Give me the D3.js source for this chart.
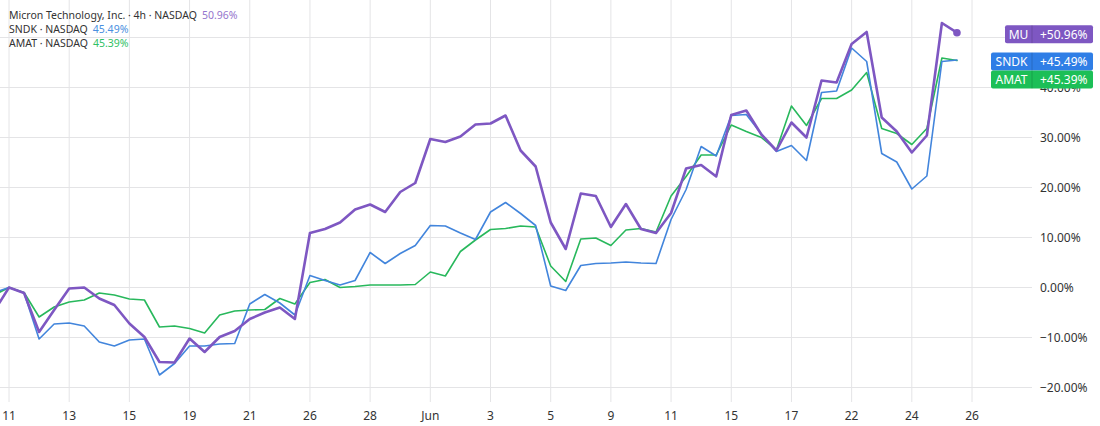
<!DOCTYPE html>
<html><head><meta charset="utf-8">
<script src="https://cdn.jsdelivr.net/npm/d3@7"></script>
<style>
body{margin:0;background:#fff;}
svg{display:block;font-family:"Noto Sans",sans-serif;}
</style>
</head><body>
<svg id="c" width="1100" height="426"></svg>
<script>
// bar index of first value (one bar before May 11, partly cut off)
const firstIndex = -1;
const tickLabels = ["11","13","15","19","21","26","28","Jun","3","5","9","11","15","17","22","24","26"];
const tickIndex  = [0,4,8,12,16,20,24,28,32,36,40,44,48,52,56,60,64];
const yTicks = [-20,-10,0,10,20,30,40,50];

const mu = [-4.8,0,-1.1,-8.9,-4.5,-0.2,0,-2.2,-3.5,-7.2,-9.9,-14.9,-15.0,-10.2,-12.9,-9.9,-8.7,-6.3,-5.0,-4.0,-6.3,
  10.9,11.7,13.0,15.6,16.6,15.1,19.1,20.9,29.7,29.1,30.2,32.6,32.8,34.4,27.4,24.2,
  13.0,7.7,18.8,18.3,12.1,16.7,11.7,10.9,14.9,23.8,24.5,22.2,34.5,35.4,30.6,
  27.4,33.0,30.0,41.4,41.0,48.7,51.1,34.0,31.2,27.0,30.4,52.9,50.96];
const sndk = [-1.0,0,-1.1,-10.3,-7.3,-7.1,-7.7,-10.9,-11.7,-10.5,-10.3,-17.5,-15.2,-11.7,-11.7,-11.3,-11.2,-3.3,-1.4,-3.1,-5.5,
  2.4,1.4,0.5,1.4,7.0,4.8,6.8,8.4,12.4,12.3,10.9,9.6,15.1,17.0,14.8,12.4,
  0.3,-0.6,4.4,4.8,4.9,5.1,4.9,4.8,13.6,19.6,28.2,26.3,34.4,34.6,30.7,
  27.2,28.4,25.4,39.0,39.3,47.9,45.2,26.8,25.1,19.7,22.3,45.2,45.49];
const amat = [-1.5,0,-1.0,-5.9,-3.9,-2.9,-2.5,-1.1,-1.5,-2.3,-2.5,-7.9,-7.7,-8.2,-9.1,-5.5,-4.7,-4.5,-4.4,-2.2,-3.3,
  1.0,1.6,0,0.2,0.5,0.5,0.5,0.6,3.1,2.3,7.2,9.5,11.6,11.8,12.3,12.1,
  4.3,1.2,9.7,9.9,8.4,11.5,11.8,11.1,18.3,22.2,26.5,26.5,32.5,31.2,30.0,
  27.5,36.3,32.4,37.8,37.8,39.5,43.0,31.8,30.8,28.6,31.8,45.9,45.39];

const legendNames = ["Micron Technology, Inc. · 4h · NASDAQ","SNDK · NASDAQ","AMAT · NASDAQ"];
const badgeNames = ["MU","SNDK","AMAT"];

const series = [
  {key:"MU",   values:mu,   line:"#7e57c2", badge:"#7e57c2", legendVal:"#9575cd", w:2.6},
  {key:"SNDK", values:sndk, line:"#4285dc", badge:"#2f7ee6", legendVal:"#4a8fe0", w:1.6},
  {key:"AMAT", values:amat, line:"#28b85c", badge:"#1cbf57", legendVal:"#2fc165", w:1.6}
];

const svg = d3.select("#c");
const plotRight = 1032, plotBottom = 402;

const x = d3.scaleLinear().domain([0,64]).range([9,972]);
const y = d3.scaleLinear().domain([-20,50]).range([387.5,37.5]);

svg.append("defs").append("clipPath").attr("id","clip")
  .append("rect").attr("x",0).attr("y",0).attr("width",plotRight).attr("height",plotBottom);

// grid
const grid = svg.append("g");
grid.selectAll("line.v").data(tickIndex).join("line")
  .attr("x1",d=>x(d)).attr("x2",d=>x(d)).attr("y1",0).attr("y2",plotBottom)
  .attr("stroke","#e4e4e6").attr("stroke-width",1);
grid.selectAll("line.h").data(yTicks).join("line")
  .attr("x1",0).attr("x2",plotRight).attr("y1",d=>y(d)).attr("y2",d=>y(d))
  .attr("stroke","#e4e4e6").attr("stroke-width",1);

// badge layout (computed first so fully covered axis labels can be skipped)
const bh = 18;
let prevBottom = -Infinity;
const badges = series.map((s,k)=>{
  const v = s.values[s.values.length-1];
  let top = y(v)+1.5 - bh/2;
  if (top < prevBottom) top = prevBottom;
  prevBottom = top + bh;
  return {s, k, v, top, left: k===0 ? 1005 : 991};
});
const covered = d => badges.some(b => y(d)-3 >= b.top && y(d)+3 <= b.top+bh);

// axis labels
const fmt = d => (d<0?"\u2212":"") + d3.format(".2f")(Math.abs(d)) + "%";
svg.append("g").selectAll("text").data(yTicks.filter(d=>!covered(d))).join("text")
  .attr("x",1040).attr("y",d=>y(d)+4.3)
  .attr("font-size",12).attr("fill","#333").text(fmt);
svg.append("g").selectAll("text").data(tickIndex).join("text")
  .attr("x",d=>x(d)).attr("y",420).attr("text-anchor","middle")
  .attr("font-size",12).attr("fill","#333").text((d,i)=>tickLabels[i]);

// lines
const line = d3.line().x((d,i)=>x(i+firstIndex)).y(d=>y(d));
const lg = svg.append("g").attr("clip-path","url(#clip)");
[series[2],series[1],series[0]].forEach(s=>{
  lg.append("path").datum(s.values).attr("d",line)
    .attr("fill","none").attr("stroke",s.line).attr("stroke-width",s.w)
    .attr("stroke-linejoin","round").attr("stroke-linecap","round");
});
// end dot for MU
const lastI = mu.length-1;
lg.append("circle").attr("cx",x(lastI+firstIndex)).attr("cy",y(mu[lastI]))
  .attr("r",3.8).attr("fill","#7e57c2");

// legend
const leg = svg.append("g");
series.forEach((s,k)=>{
  const t = leg.append("text").attr("x",9).attr("y",18.5+k*14).attr("font-size",10.5).attr("fill","#333");
  t.append("tspan").text(legendNames[k]);
  const last = s.values[s.values.length-1];
  t.append("tspan").attr("dx",5).attr("fill",s.legendVal).text(d3.format(".2f")(last)+"%");
});

// badges
const bg = svg.append("g");
badges.forEach(b=>{
  bg.append("rect").attr("x",b.left).attr("y",b.top).attr("width",1093-b.left).attr("height",bh)
    .attr("rx",2).attr("fill",b.s.badge);
  bg.append("line").attr("x1",1032).attr("x2",1032).attr("y1",b.top).attr("y2",b.top+bh)
    .attr("stroke","rgba(0,0,0,0.15)").attr("stroke-width",1);
  bg.append("text").attr("x",(b.left+1032)/2).attr("y",b.top+bh/2+4.3).attr("text-anchor","middle")
    .attr("font-size",12).attr("fill","#fff").text(badgeNames[b.k]);
  bg.append("text").attr("x",1040).attr("y",b.top+bh/2+4.3)
    .attr("font-size",12).attr("fill","#fff").text("+"+d3.format(".2f")(b.v)+"%");
});
</script>
</body></html>
